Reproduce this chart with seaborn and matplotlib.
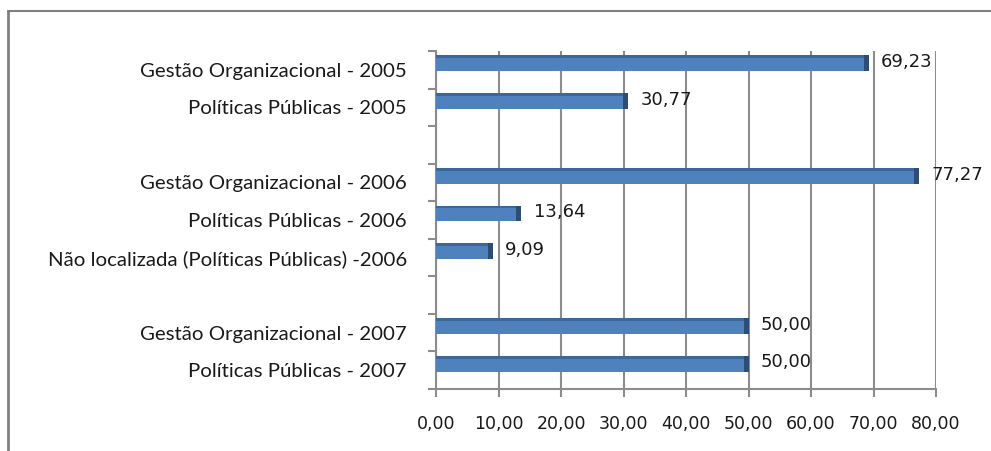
import matplotlib
matplotlib.use("Agg")
import matplotlib.pyplot as plt
import seaborn as sns
import pandas as pd
from matplotlib.lines import Line2D
from matplotlib.ticker import FixedLocator

# -----------------------------
# Data
# -----------------------------
categories = [
    "Gestão Organizacional - 2005",
    "Políticas Públicas - 2005",
    " ",
    "Gestão Organizacional - 2006",
    "Políticas Públicas - 2006",
    "Não localizada (Políticas Públicas) -2006",
    "  ",
    "Gestão Organizacional - 2007",
    "Políticas Públicas - 2007",
]
bar_labels = [
    "Gestão Organizacional - 2005",
    "Políticas Públicas - 2005",
    "Gestão Organizacional - 2006",
    "Políticas Públicas - 2006",
    "Não localizada (Políticas Públicas) -2006",
    "Gestão Organizacional - 2007",
    "Políticas Públicas - 2007",
]
values = [69.23, 30.77, 77.27, 13.64, 9.09, 50.00, 50.00]
x_ticks = [0, 10, 20, 30, 40, 50, 60, 70, 80]

df = pd.DataFrame({"categoria": bar_labels, "valor": values})

# -----------------------------
# Style
# -----------------------------
sns.set_theme(style="white")
plt.rcParams["font.family"] = ["Lato", "DejaVu Sans"]

BLUE = "#4F81BD"
TOP = "#3C679B"
END = "#2C4D75"
GRID = "#8C8C8C"
BAR_W = 0.42
SHIFT = 0.17   # bars sit a little above the label centre (3D look)

fig = plt.figure(figsize=(9.91, 4.51), dpi=100)
ax = fig.add_axes([0.44, 0.1375, 0.5045, 0.7495])

sns.barplot(data=df, y="categoria", x="valor", order=categories,
            orient="h", color=BLUE, width=BAR_W, saturation=1,
            linewidth=0, errorbar=None, ax=ax, zorder=3)
for p in ax.patches:
    p.set_y(p.get_y() - SHIFT)

# darker top face and end cap for a bit of 3D look
pos = {c: i for i, c in enumerate(categories)}
for lab, v in zip(bar_labels, values):
    yc = pos[lab] - SHIFT
    ax.barh(yc - BAR_W / 2 + 0.035, v, height=0.07, color=TOP,
            linewidth=0, zorder=4)
    ax.barh(yc, 0.8, left=v - 0.8, height=BAR_W, color=END,
            linewidth=0, zorder=4)
    ax.annotate(f"{v:.2f}".replace(".", ","), xy=(v, yc),
                xytext=(9, 1), textcoords="offset points",
                ha="left", va="center", fontsize=13,
                fontfamily="DejaVu Sans", color="#1a1a1a", zorder=5)

ax.set_xlim(0, 80)
ax.set_ylim(len(categories) - 0.5, -0.5)
ax.xaxis.set_major_locator(FixedLocator(x_ticks))
ax.set_xticklabels([f"{t:.2f}".replace(".", ",") for t in x_ticks])
for t in ax.get_xticklabels():
    t.set_fontfamily("DejaVu Sans")
    t.set_fontsize(12.5)
    t.set_color("#1a1a1a")

# category labels at slot centres, tick marks at slot borders
ax.yaxis.set_major_locator(FixedLocator(range(len(categories))))
ax.set_yticklabels([c.strip() for c in categories], fontsize=14.7, color="#1a1a1a")
ax.yaxis.set_minor_locator(FixedLocator([i - 0.5 for i in range(len(categories) + 1)]))
ax.tick_params(axis="y", which="major", length=0, pad=21)
ax.tick_params(axis="y", which="minor", length=6, width=1.5, color=GRID, left=True)
ax.tick_params(axis="x", which="major", length=6, width=1.5, color=GRID,
               bottom=True, pad=13)

ax.set_xlabel("")
ax.set_ylabel("")

ax.grid(axis="x", color=GRID, linewidth=1.5, zorder=0)
ax.grid(axis="y", visible=False)
for side in ["top", "right"]:
    ax.spines[side].set_visible(False)
for side in ["left", "bottom"]:
    ax.spines[side].set_color(GRID)
    ax.spines[side].set_linewidth(1.5)

# chart area border (left and top only visible)
fig.add_artist(Line2D([0.0085, 0.0085], [0, 0.976], transform=fig.transFigure,
                      color="#808080", linewidth=2))
fig.add_artist(Line2D([0.0085, 1.0], [0.976, 0.976], transform=fig.transFigure,
                      color="#808080", linewidth=1.5))

fig.savefig("out.png", dpi=100)
